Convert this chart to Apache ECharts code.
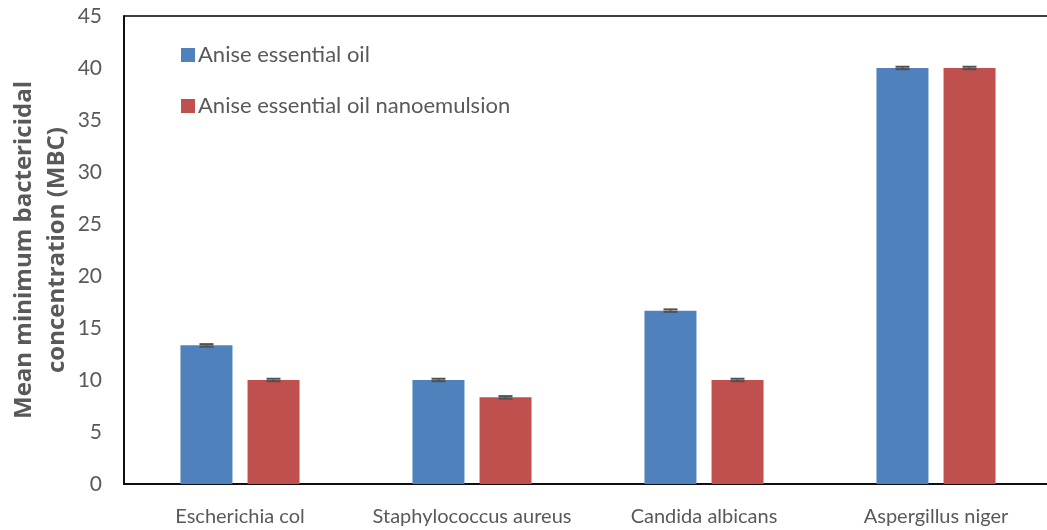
<!DOCTYPE html>
<html><head><meta charset="utf-8">
<script src="https://cdn.jsdelivr.net/npm/echarts@6/dist/echarts.min.js"></script>
<style>html,body{margin:0;padding:0;background:#fff}#c{width:1047px;height:530px}</style>
</head><body><div id="c"></div>
<script>
const categories = ['Escherichia col', 'Staphylococcus aureus', 'Candida albicans', 'Aspergillus niger'];
const seriesNames = ['Anise essential oil', 'Anise essential oil nanoemulsion'];
const oilValues = [13.33, 10, 16.67, 40];
const nanoValues = [10, 8.33, 10, 40];
const oilErrors = [0.12, 0.12, 0.12, 0.12];
const nanoErrors = [0.12, 0.12, 0.12, 0.12];
const colors = ['#4F81BD', '#C0504D'];
const FONT = 'Lato';

const chart = echarts.init(document.getElementById('c'), null, {renderer: 'canvas'});

function errSeries(vals, errs, idx) {
  return {
    type: 'custom',
    name: seriesNames[idx] + ' err',
    z: 10,
    silent: true,
    data: vals.map((v, i) => [i, v - errs[i], v + errs[i]]),
    renderItem: function (params, api) {
      const ci = api.value(0);
      const lo = api.coord([ci, api.value(1)]);
      const hi = api.coord([ci, api.value(2)]);
      const barW = 52, gap = 15;
      const offset = (idx === 0 ? -1 : 1) * (barW + gap) / 2;
      const x = lo[0] + offset;
      const half = 7;
      return {
        type: 'group',
        children: [
          {type: 'line', shape: {x1: x, y1: lo[1], x2: x, y2: hi[1]}, style: {stroke: '#505050', lineWidth: 1.5}},
          {type: 'line', shape: {x1: x - half, y1: hi[1], x2: x + half, y2: hi[1]}, style: {stroke: '#505050', lineWidth: 2}},
          {type: 'line', shape: {x1: x - half, y1: lo[1], x2: x + half, y2: lo[1]}, style: {stroke: '#505050', lineWidth: 2}}
        ]
      };
    }
  };
}

chart.setOption({
  animation: false,
  textStyle: {fontFamily: FONT},
  grid: {left: 124, top: 16, width: 928, bottom: 46, containLabel: false, outerBoundsMode: 'none', show: true, borderColor: '#000', borderWidth: 1.5, backgroundColor: 'transparent'},
  legend: {
    data: seriesNames,
    orient: 'vertical',
    left: 176, top: 39,
    itemWidth: 14, itemHeight: 14, itemGap: 29,
    icon: 'rect',
    textStyle: {fontFamily: FONT, fontSize: 22, color: '#595959', padding: [0, 0, 0, -2]}
  },
  xAxis: {
    type: 'category',
    data: categories,
    axisLine: {lineStyle: {color: '#000', width: 1.5}},
    axisTick: {show: false},
    axisLabel: {interval: 0, fontFamily: FONT, fontSize: 20, color: '#595959', margin: 23}
  },
  yAxis: {
    type: 'value',
    min: 0, max: 45, interval: 5,
    name: 'Mean minimum bactericidal\nconcentration (MBC)',
    nameLocation: 'middle',
    nameGap: 50,
    nameMoveOverlap: false,
    nameTextStyle: {fontFamily: 'Open Sans', fontSize: 24, fontWeight: 'bold', color: '#595959', lineHeight: 33},
    axisLine: {show: true, lineStyle: {color: '#000', width: 1.5}},
    axisTick: {show: false},
    splitLine: {show: false},
    axisLabel: {fontFamily: FONT, fontSize: 21, color: '#595959', margin: 22}
  },
  series: [
    {name: seriesNames[0], type: 'bar', data: oilValues, barWidth: 52, barGap: '29%', itemStyle: {color: colors[0]}},
    {name: seriesNames[1], type: 'bar', data: nanoValues, barWidth: 52, barGap: '29%', itemStyle: {color: colors[1]}},
    errSeries(oilValues, oilErrors, 0),
    errSeries(nanoValues, nanoErrors, 1)
  ]
});
</script></body></html>
